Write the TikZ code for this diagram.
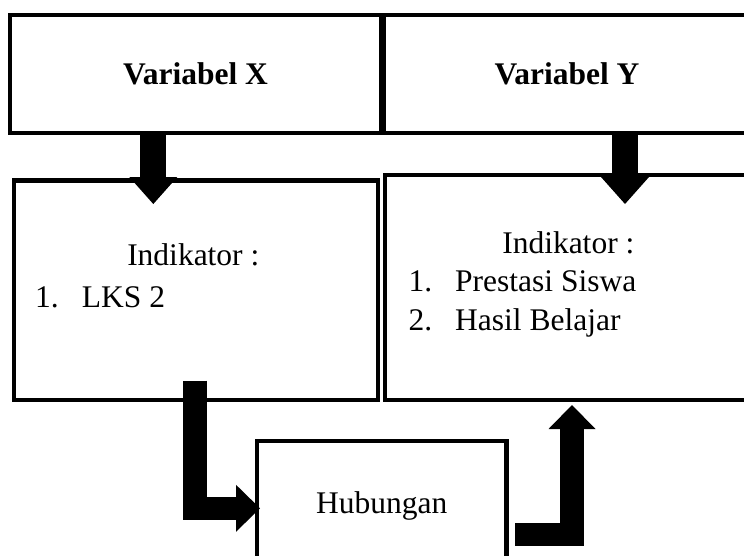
\documentclass[tikz,border=0pt]{standalone}
\usepackage{fontspec}
\setmainfont{Liberation Serif}
\usetikzlibrary{arrows.meta}

\begin{document}
\begin{tikzpicture}[x=1pt,y=-1pt]
\tikzstyle{kotak}=[draw,line width=4.5pt,inner sep=0pt,font=\fontsize{31.5}{40}\selectfont]
\tikzstyle{kotak judul}=[kotak,font=\fontsize{31.5}{40}\selectfont\bfseries]
\tikzstyle{teks}=[inner sep=0pt,anchor=base west,font=\fontsize{31.5}{40}\selectfont]
\tikzstyle{panah}=[line width=26pt,-{Triangle[length=27pt,width=48pt,line width=0pt]}]
\tikzstyle{panah siku}=[line width=23.3pt,line join=miter,-{Triangle[length=24pt,width=47pt,line width=0pt]}]

\useasboundingbox[fill=white] (0,0) rectangle (744,555);
\clip (0,0) rectangle (744,555);

% kotak atas
\node[kotak judul,minimum width=371pt,minimum height=118pt] (varx) at (195.5,74) {Variabel X};
\node[kotak judul,minimum width=366pt,minimum height=118pt] (vary) at (567,74) {Variabel Y};

% kotak indikator
\node[kotak,minimum width=364pt,minimum height=219.5pt] (indx) at (196,290.25) {};
\node[kotak,minimum width=365pt,minimum height=225pt] (indy) at (567.5,287.5) {};

\node[teks,anchor=base] (judulx) at (193.3,265) {Indikator :};
\node[teks] (lks) at (35,307.3) {\makebox[46.7pt][l]{1.}LKS 2};

\node[teks,anchor=base] (juduly) at (568.3,253) {Indikator :};
\node[teks] (prestasi) at (408.3,291) {\makebox[46.7pt][l]{1.}Prestasi Siswa};
\node[teks] (hasil) at (408.3,330) {\makebox[46.7pt][l]{2.}Hasil Belajar};

% kotak hubungan
\node[kotak,minimum width=249.5pt,minimum height=129pt] (hub) at (381.75,505.5) {Hubungan};

% panah
\coordinate (x1) at (153.3,133);
\coordinate (x2) at (153.3,204);
\coordinate (y1) at (625,133);
\coordinate (y2) at (625,204);
\coordinate (h1) at (195,380.7);
\coordinate (h2) at (260,508.3);
\coordinate (k1) at (515,534.7);
\coordinate (k2) at (572,405);

\draw[panah] (x1) -- (x2);
\draw[panah] (y1) -- (y2);
\draw[panah siku] (h1) |- (h2);
\draw[panah siku] (k1) -| (k2);
\end{tikzpicture}
\end{document}
